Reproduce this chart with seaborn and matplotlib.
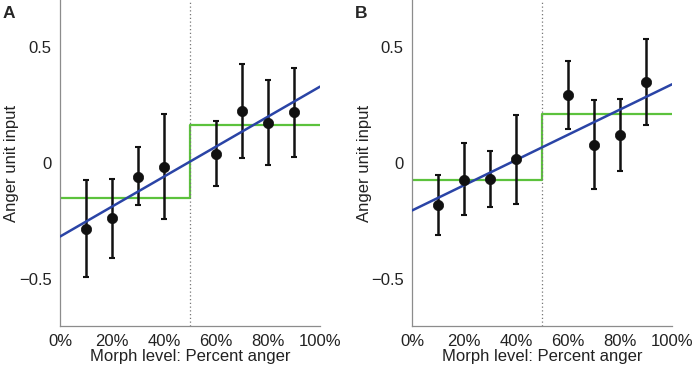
import numpy as np
import matplotlib
matplotlib.use("Agg")
import matplotlib.pyplot as plt
import seaborn as sns
from matplotlib.ticker import FuncFormatter

# morph levels (fraction of anger)
morph = [0.1, 0.2, 0.3, 0.4, 0.6, 0.7, 0.8, 0.9]

# panel A
a_mean = [-0.282, -0.238, -0.058, -0.016, 0.040, 0.224, 0.172, 0.217]
a_hi = [-0.075, -0.067, 0.067, 0.211, 0.181, 0.427, 0.355, 0.410]
a_lo = [-0.489, -0.410, -0.182, -0.242, -0.100, 0.023, -0.010, 0.026]
a_fit = [-0.316, 0.328]
a_step = [-0.150, 0.164]

# panel B
b_mean = [-0.179, -0.071, -0.068, 0.016, 0.291, 0.078, 0.121, 0.348]
b_hi = [-0.050, 0.085, 0.053, 0.205, 0.436, 0.271, 0.274, 0.533]
b_lo = [-0.309, -0.225, -0.189, -0.174, 0.145, -0.113, -0.034, 0.165]
b_fit = [-0.204, 0.338]
b_step = [-0.075, 0.209]

fit_x = [0.0, 1.0]
step_x = [0.0, 0.5, 0.5, 1.0]
boundary = 0.5

BLUE = "#2a44a6"
GREEN = "#5cc23c"
SPINE = "#8c8c8c"
FS = 12

sns.set_style("white")
plt.rcParams["font.family"] = ["Liberation Sans", "DejaVu Sans"]

fig = plt.figure(figsize=(6.94, 3.67), dpi=100)
ax_a = fig.add_axes([60 / 694, 41 / 367, 260 / 694, 326 / 367])
ax_b = fig.add_axes([412 / 694, 41 / 367, 260 / 694, 326 / 367])


def draw(ax, mean, hi, lo, fit, step, letter, lx):
    mean = np.asarray(mean)
    err = [mean - np.asarray(lo), np.asarray(hi) - mean]
    # step model: keep the vertical jump, no aggregation of repeated x
    sns.lineplot(ax=ax, x=step_x, y=[step[0], step[0], step[1], step[1]],
                 color=GREEN, linewidth=1.6, sort=False, estimator=None,
                 errorbar=None, zorder=2)
    ax.axvline(boundary, color="#777777", linestyle=(0, (1, 2)), linewidth=0.9, zorder=3)
    ax.errorbar(morph, mean, yerr=err, fmt="none", ecolor="#111111",
                elinewidth=1.8, capsize=2.5, capthick=1.5, zorder=4)
    sns.lineplot(ax=ax, x=fit_x, y=fit, color=BLUE, linewidth=1.8,
                 errorbar=None, zorder=5)
    sns.scatterplot(ax=ax, x=morph, y=mean, color="#111111", s=55,
                    edgecolor="#111111", linewidth=0.5, zorder=6)

    ax.set_xlim(0, 1)
    ax.set_ylim(-0.7, 0.7)
    ax.set_xticks([0, 0.2, 0.4, 0.6, 0.8, 1.0])
    ax.xaxis.set_major_formatter(FuncFormatter(lambda v, p: f"{v * 100:.0f}%"))
    ax.set_yticks([-0.5, 0, 0.5])
    ax.set_yticklabels(["\u22120.5", "0", "0.5"])
    ax.tick_params(axis="both", direction="in", length=2.5, width=0.8,
                   color=SPINE, labelsize=FS, pad=6, labelcolor="#222222")
    ax.set_xlabel("Morph level: Percent anger", fontsize=FS, labelpad=0, color="#222222")
    ax.set_ylabel("Anger unit input", fontsize=FS, color="#222222", va="center")
    ax.yaxis.set_label_coords(-48 / 260, 0.5)
    sns.despine(ax=ax)
    for side in ("left", "bottom"):
        ax.spines[side].set_color(SPINE)
        ax.spines[side].set_linewidth(0.9)
    fig.text(lx, 0.962, letter, fontsize=12.5, fontweight="bold", ha="left", va="center")


draw(ax_a, a_mean, a_hi, a_lo, a_fit, a_step, "A", 3 / 694)
draw(ax_b, b_mean, b_hi, b_lo, b_fit, b_step, "B", 355 / 694)

fig.savefig("out.png", dpi=100)
